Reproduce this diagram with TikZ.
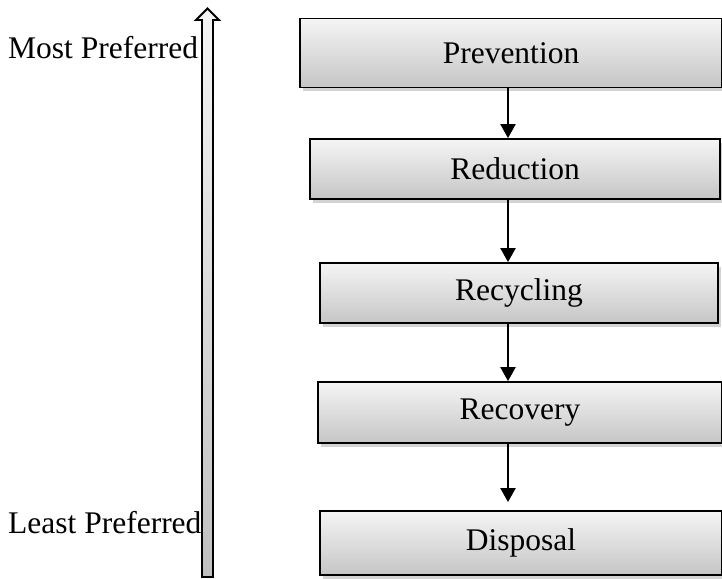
\documentclass[tikz,border=0pt]{standalone}
\usepackage{fontspec}
\setmainfont{Liberation Serif}
\usetikzlibrary{arrows.meta,shadows}

\tikzset{
  stagebox/.style={draw, line width=1.8pt, top color=gray!8, bottom color=gray!45,
    drop shadow={shadow xshift=2.5pt, shadow yshift=-3.5pt, opacity=0.35},
    inner sep=0pt, font=\fontsize{31.5}{37}\selectfont},
  flow/.style={line width=2.2pt, -{Triangle[width=15pt,length=14pt]}},
  sidelabel/.style={anchor=base west, inner sep=0pt, font=\fontsize{31.5}{37}\selectfont}
}

\begin{document}
\begin{tikzpicture}[x=1pt,y=-1pt]
\useasboundingbox (0,0) rectangle (722,578);

% preference axis
\shadedraw[top color=gray!8, bottom color=gray!50, line width=1.8pt]
  (202,577) -- (202,20) -- (196,20) -- (207.5,8.5) -- (219,20) -- (213,20) -- (213,577) -- cycle;
\node[sidelabel] (most) at (8,59) {Most Preferred};
\node[sidelabel] (least) at (8,533) {Least Preferred};

% hierarchy
\node[stagebox, minimum width=422pt, minimum height=69pt] (prevention) at (511,53) {Prevention};
\node[stagebox, minimum width=410pt, minimum height=60pt] (reduction) at (515,169) {Reduction};
\node[stagebox, minimum width=398pt, minimum height=60pt] (recycling) at (519,293) {Recycling};
\node[stagebox, minimum width=404pt, minimum height=61pt] (recovery) at (520,412.5) {Recovery};
\node[stagebox, minimum width=402pt, minimum height=64pt] (disposal) at (521,543) {Disposal};

\coordinate (axis) at (508,0);
\draw[flow] (prevention.south -| axis) -- (reduction.north -| axis);
\draw[flow] (reduction.south -| axis) -- (recycling.north -| axis);
\draw[flow] (recycling.south -| axis) -- (recovery.north -| axis);
\draw[flow, shorten >=8pt] (recovery.south -| axis) -- (disposal.north -| axis);
\end{tikzpicture}
\end{document}
